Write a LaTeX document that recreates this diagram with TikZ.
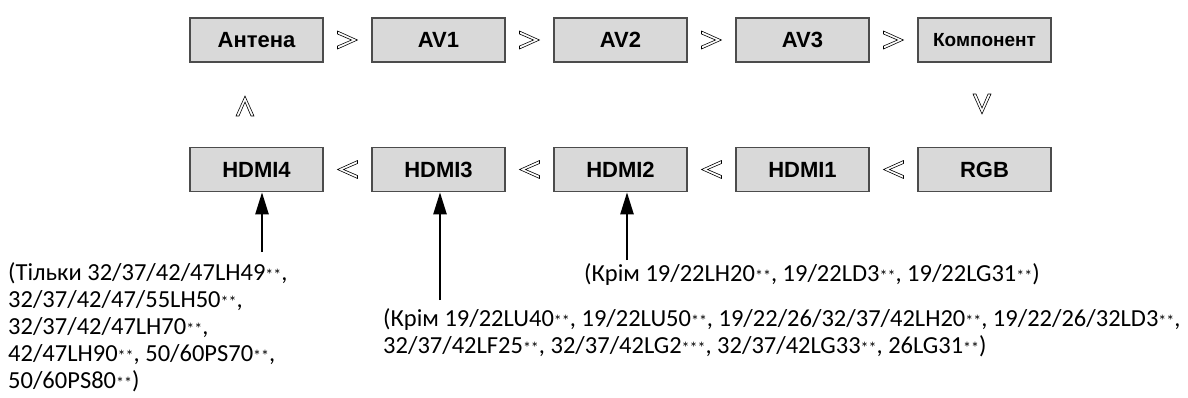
\documentclass[tikz,border=0pt]{standalone}
\usepackage{fontspec}
\setmainfont{Carlito}
\newfontfamily\boxfont{Liberation Sans}
\usetikzlibrary{arrows.meta,calc}
\newcommand\stars[1]{{\fontsize{16}{16}\selectfont #1}}

\begin{document}
\begin{tikzpicture}[x=1pt, y=-1pt,
    src/.style={draw=black!70, fill=black!15, line width=1.6pt, minimum width=133pt, minimum height=44pt, inner sep=0pt, font=\boxfont\bfseries\fontsize{22}{26}\selectfont},
    note/.style={align=left, inner sep=0pt, anchor=north west, font=\fontsize{24.5}{27}\selectfont},
    arrow/.style={-{Triangle[length=22pt,width=13pt]}, line width=2.4pt},
    chev/.pic={\draw[line width=0.6pt, fill=white] (-10,-9) -- (10,0) -- (-10,9) -- (-10,6) -- (4,0) -- (-10,-6) -- cycle;}
]
\useasboundingbox[fill=white] (0,0) rectangle (1188,397);

% top row
\node[src] (ant) at (256.5,40) {Антена};
\node[src] (av1) at (438.5,40) {AV1};
\node[src] (av2) at (620.5,40) {AV2};
\node[src] (av3) at (802.5,40) {AV3};
\node[src, font=\boxfont\bfseries\fontsize{19}{22}\selectfont] (comp) at (984.5,40) {Компонент};

% bottom row
\node[src] (h4) at (256.5,169.5) {HDMI4};
\node[src] (h3) at (438.5,169.5) {HDMI3};
\node[src] (h2) at (620.5,169.5) {HDMI2};
\node[src] (h1) at (802.5,169.5) {HDMI1};
\node[src] (rgb) at (984.5,169.5) {RGB};

% order marks
\pic at ($(ant.east)!.5!(av1.west)$) {chev};
\pic at ($(av1.east)!.5!(av2.west)$) {chev};
\pic at ($(av2.east)!.5!(av3.west)$) {chev};
\pic at ($(av3.east)!.5!(comp.west)$) {chev};
\pic[rotate=-90] at (982,104) {chev};
\pic[rotate=180] at ($(rgb.west)!.5!(h1.east)$) {chev};
\pic[rotate=180] at ($(h1.west)!.5!(h2.east)$) {chev};
\pic[rotate=180] at ($(h2.west)!.5!(h3.east)$) {chev};
\pic[rotate=180] at ($(h3.west)!.5!(h4.east)$) {chev};
\pic[rotate=90] at (245,106) {chev};

% notes
\node[note] (n4) at (8,262) {(Тільки 32/37/42/47LH49\stars{**},\\32/37/42/47/55LH50\stars{**},\\32/37/42/47LH70\stars{**},\\42/47LH90\stars{**}, 50/60PS70\stars{**},\\50/60PS80\stars{**})};
\node[note] (n3) at (383,308) {(Крім 19/22LU40\stars{**}, 19/22LU50\stars{**}, 19/22/26/32/37/42LH20\stars{**}, 19/22/26/32LD3\stars{**},\\32/37/42LF25\stars{**}, 32/37/42LG2\stars{***}, 32/37/42LG33\stars{**}, 26LG31\stars{**})};
\node[note] (n2) at (584,263) {(Крім 19/22LH20\stars{**}, 19/22LD3\stars{**}, 19/22LG31\stars{**})};

\coordinate (t4) at (262,252);
\coordinate (t3) at (440,300);
\coordinate (t2) at (627,260);
\draw[arrow] (t4) -- (t4 |- h4.south);
\draw[arrow] (t3) -- (t3 |- h3.south);
\draw[arrow] (t2) -- (t2 |- h2.south);
\end{tikzpicture}
\end{document}
